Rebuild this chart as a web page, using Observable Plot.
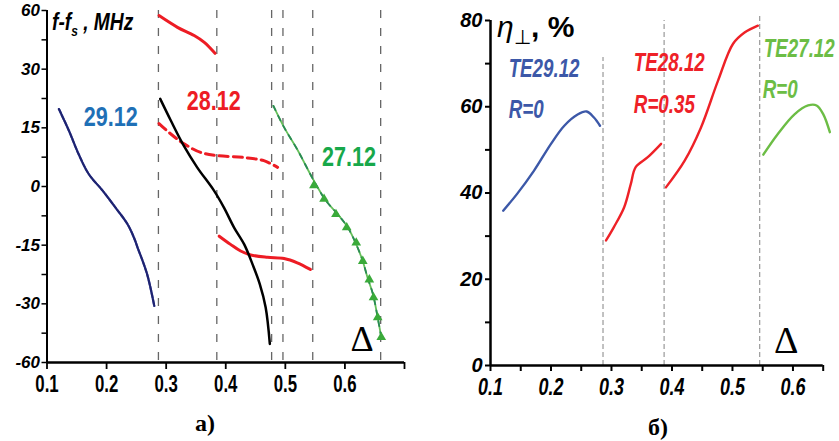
<!DOCTYPE html>
<html><head><meta charset="utf-8">
<script src="https://cdn.jsdelivr.net/npm/d3@7"></script>
<script src="https://cdn.jsdelivr.net/npm/@observablehq/plot@0.6"></script>
<style>
body{margin:0;background:#fff;}
#wrap{position:relative;width:839px;height:441px;overflow:hidden;background:#fff;}
#left,#right{position:absolute;top:0;}
#left{left:0px;}#right{left:420px;}
.ov{position:absolute;white-space:nowrap;line-height:1;}
.cap{font-family:"Liberation Serif","DejaVu Serif",serif;font-weight:bold;font-size:24px;}
</style></head>
<body>
<div id="wrap">
  <div id="left"></div>
  <div id="right"></div>
  <div class="ov" style="left:52px;top:10px;font-size:24px;font-weight:bold;font-style:italic;font-family:'Liberation Sans',sans-serif;transform:scaleX(0.8);transform-origin:left top;">f-f<sub style="font-size:15px;">s</sub> , MHz</div>
  <div class="ov" style="left:497px;top:12px;font-size:30px;font-family:'Liberation Sans','DejaVu Sans',sans-serif;"><span style="font-style:italic;">η</span><sub style="font-size:20px;">⊥</sub><b>, %</b></div>
  <div class="ov cap" style="left:195px;top:411px;">a)</div>
  <div class="ov cap" style="left:648px;top:415px;">б)</div>
</div>
<script>
// ---------- Panel a) data ----------
const xTicksA = [0.1, 0.2, 0.3, 0.4, 0.5, 0.6];
const xTickEndA = [0.7];
const yTicksA = [60, 30, 15, 0, -15, -30, -60];
const yMinorA = [45, 22.5, 7.5, -7.5, -22.5, -45];
const dividersA = [0.287, 0.385, 0.477, 0.496, 0.546, 0.660];

const d2912 = [0.120, 0.137, 0.153, 0.170, 0.193, 0.215, 0.235, 0.246, 0.252, 0.268, 0.280];
const f2912 = [19.8, 14.2, 8.3, 3.2, -1.0, -5.4, -9.6, -13.1, -15.6, -22.4, -31.0];

const d2812top = [0.288, 0.319, 0.347, 0.364, 0.382];
const f2812top = [57.4, 51.4, 47.2, 43.7, 38.1];

const d2812dash = [0.288, 0.308, 0.330, 0.358, 0.386, 0.431, 0.464, 0.487];
const f2812dash = [16.1, 13.4, 10.9, 8.7, 7.9, 7.4, 6.6, 4.9];

const d2812black = [0.290, 0.308, 0.330, 0.352, 0.380, 0.397, 0.414, 0.431, 0.445, 0.457, 0.467, 0.474];
const f2812black = [22.4, 16.8, 10.3, 4.9, -1.0, -5.4, -10.5, -14.8, -19.9, -24.9, -31.9, -50.5];

const d2812low = [0.389, 0.408, 0.425, 0.442, 0.470, 0.498, 0.520, 0.542];
const f2812low = [-12.7, -14.8, -16.5, -17.5, -18.1, -18.4, -19.5, -21.2];

const d2712 = [0.480, 0.498, 0.521, 0.546, 0.568, 0.588, 0.605, 0.619, 0.630, 0.638, 0.647, 0.655, 0.661];
const f2712 = [20.6, 15.1, 9.2, 2.0, -3.6, -7.1, -10.5, -14.8, -19.1, -23.3, -27.5, -37.0, -47.1];
const d2712mk = [0.548, 0.565, 0.585, 0.603, 0.619, 0.630, 0.641, 0.648, 0.655, 0.661];
const f2712mk = [0.3, -3.2, -7.1, -10.5, -14.4, -19.1, -23.8, -28.4, -37.0, -47.1];

const labelsA = ["29.12", "28.12", "27.12"];
const labelXA = [0.207, 0.380, 0.607];
const labelYA = [17.6, 21.7, 7.4];
const colorsA = ["#1f70b6", "#ed1c24", "#17a84a"];

// ---------- Panel б) data ----------
const xTicksB = [0.1, 0.2, 0.3, 0.4, 0.5, 0.6];
const xMinorB = [0.15, 0.25, 0.35, 0.45, 0.55, 0.65];
const yTicksB = [0, 20, 40, 60, 80];
const yMinorB = [10, 30, 50, 70];
const dividersB = [0.286, 0.387, 0.545];
const dividerTopsB = [71.4, 80, 81];

const d29 = [0.121, 0.144, 0.172, 0.200, 0.222, 0.244, 0.259, 0.271, 0.281];
const e29 = [35.9, 39.8, 45.2, 51.4, 55.6, 58.2, 58.9, 57.5, 55.6];
const d28a = [0.291, 0.304, 0.321, 0.332, 0.340, 0.360, 0.382];
const e28a = [29.0, 32.1, 36.7, 42.1, 46.0, 48.3, 51.4];
const d28b = [0.390, 0.421, 0.448, 0.476, 0.501, 0.520, 0.542];
const e28b = [41.3, 47.5, 55.2, 66.0, 74.6, 77.2, 78.8];
const d27 = [0.551, 0.575, 0.603, 0.625, 0.639, 0.650, 0.661];
const e27 = [48.9, 53.7, 58.3, 60.3, 60.3, 58.3, 54.1];

const labelsB = ["TE29.12", "R=0", "TE28.12", "R=0.35", "TE27.12", "R=0"];
const labelXB = [0.130, 0.130, 0.337, 0.337, 0.550, 0.550];
const labelYB = [68.8, 59.3, 70.2, 60.5, 73.5, 64.0];
const colorsB = ["#3c58a8", "#3c58a8", "#ee2127", "#ee2127", "#6cbd45", "#6cbd45"];

const pts = (xs, ys) => xs.map((x, i) => ({x, y: ys[i]}));
const SANS = '"Liberation Sans","DejaVu Sans",sans-serif';
const SERIF = '"Liberation Serif","DejaVu Serif",serif';

// piecewise (equal spacing) y axis of panel a)
const yPiece = d3.scaleLinear().domain([-60, -30, -15, 0, 15, 30, 60]).range([0, 1, 2, 3, 4, 5, 6]);

function condense(svg, fontSize, k) {
  svg.querySelectorAll(`g[font-size="${fontSize}"] text`).forEach(t => {
    const w = t.getComputedTextLength();
    if (w > 0) {
      t.setAttribute("textLength", (w * k).toFixed(2));
      t.setAttribute("lengthAdjust", "spacingAndGlyphs");
    }
  });
}

// ---------- Panel a) ----------
const lblA = labelsA.map((t, i) => ({t, x: labelXA[i], y: labelYA[i], c: colorsA[i]}));
const plotA = Plot.plot({
  width: 420, height: 441,
  marginLeft: 46.5, marginRight: 16, marginTop: 10, marginBottom: 79,
  x: {domain: [0.1, 0.7], axis: null},
  y: {transform: yPiece, domain: [0, 6], axis: null},
  marks: [
    Plot.ruleX(dividersA, {stroke: "#666", strokeWidth: 1.3, strokeDasharray: "8,10"}),
    Plot.line(pts(d2912, f2912), {x: "x", y: "y", stroke: "#6470c0", strokeWidth: 2.2, curve: "catmull-rom"}),
    Plot.line(pts(d2912, f2912), {x: "x", y: "y", stroke: "#1e2370", strokeWidth: 2.2, strokeDasharray: "5,1.5", curve: "catmull-rom"}),
    Plot.line(pts(d2812top, f2812top), {x: "x", y: "y", stroke: "#ed1c24", strokeWidth: 3, curve: "catmull-rom"}),
    Plot.line(pts(d2812dash, f2812dash), {x: "x", y: "y", stroke: "#ed1c24", strokeWidth: 3, strokeDasharray: "9,5", curve: "catmull-rom"}),
    Plot.line(pts(d2812low, f2812low), {x: "x", y: "y", stroke: "#ed1c24", strokeWidth: 3, curve: "catmull-rom"}),
    Plot.line(pts(d2812black, f2812black), {x: "x", y: "y", stroke: "#000", strokeWidth: 2.5, curve: "catmull-rom"}),
    Plot.line(pts(d2712, f2712), {x: "x", y: "y", stroke: "#66c05a", strokeWidth: 1.8, curve: "catmull-rom"}),
    Plot.line(pts(d2712, f2712), {x: "x", y: "y", stroke: "#2a8a55", strokeWidth: 1.8, strokeDasharray: "5,6", curve: "catmull-rom"}),
    Plot.dot(pts(d2712mk, f2712mk), {x: "x", y: "y", symbol: "triangle", r: 3.6, fill: "#3aaa3a", stroke: "none"}),
    Plot.text(lblA, {x: "x", y: "y", text: "t", fill: "c", fontSize: 27, fontWeight: "bold", fontFamily: SANS, textAnchor: "middle"}),
    Plot.text(["Δ"], {x: 0.629, y: -48.3, fontSize: 36, fontFamily: SERIF, textAnchor: "middle"}),
    Plot.ruleX([0.1], {stroke: "#000", strokeWidth: 2}),
    Plot.ruleY([-60], {stroke: "#000", strokeWidth: 2.5}),
    Plot.axisY(yTicksA, {anchor: "left", label: null, tickSize: 5, tickPadding: 2, strokeWidth: 1.5, fontSize: 17, fontWeight: "bold", fontStyle: "italic", fontFamily: SANS, tickFormat: d => String(d)}),
    Plot.axisY(yMinorA, {anchor: "left", label: null, tickSize: 5, strokeWidth: 1.5, tickFormat: () => ""}),
    Plot.axisX(xTicksA, {anchor: "bottom", label: null, tickSize: 7, tickPadding: 5, strokeWidth: 1.8, fontSize: 24, fontWeight: "bold", fontFamily: SANS, tickFormat: d => d.toFixed(1)}),
    Plot.axisX(xTickEndA, {anchor: "bottom", label: null, tickSize: 7, strokeWidth: 1.8, tickFormat: () => ""})
  ]
});
document.getElementById("left").appendChild(plotA);
condense(plotA, 27, 0.8);
condense(plotA, 24, 0.7);

// ---------- Panel б) ----------
const lblB = labelsB.map((t, i) => ({t, x: labelXB[i], y: labelYB[i], c: colorsB[i]}));
const lblBWide = lblB.filter(d => d.t === "TE27.12");   // sits at the right edge: anchored at its end
const lblBRest = lblB.filter(d => d.t !== "TE27.12");
const divB = dividersB.map((x, i) => ({x, top: dividerTopsB[i]}));
const plotB = Plot.plot({
  width: 419, height: 441,
  marginLeft: 70, marginRight: 16.3, marginTop: 20, marginBottom: 76,
  x: {domain: [0.1, 0.65], axis: null},
  y: {domain: [0, 80], axis: null},
  marks: [
    Plot.ruleX(divB, {x: "x", y1: 0, y2: "top", stroke: "#999", strokeWidth: 1.2, strokeDasharray: "5,3"}),
    Plot.line(pts(d29, e29), {x: "x", y: "y", stroke: "#3c58a8", strokeWidth: 2.4, curve: "catmull-rom"}),
    Plot.line(pts(d28a, e28a), {x: "x", y: "y", stroke: "#ee2127", strokeWidth: 2.4, curve: "catmull-rom"}),
    Plot.line(pts(d28b, e28b), {x: "x", y: "y", stroke: "#ee2127", strokeWidth: 2.4, curve: "catmull-rom"}),
    Plot.line(pts(d27, e27), {x: "x", y: "y", stroke: "#6cbd45", strokeWidth: 2.4, curve: "catmull-rom"}),
    Plot.text(lblBRest, {x: "x", y: "y", text: "t", fill: "c", fontSize: 25, fontWeight: "bold", fontStyle: "italic", fontFamily: SANS, textAnchor: "start"}),
    Plot.text(lblBWide, {x: "x", y: "y", text: "t", fill: "c", fontSize: 25, fontWeight: "bold", fontStyle: "italic", fontFamily: SANS, textAnchor: "end", dx: 72}),
    Plot.text(["Δ"], {x: 0.589, y: 5.8, fontSize: 38, fontFamily: SERIF, textAnchor: "middle"}),
    Plot.ruleX([0.1], {stroke: "#000", strokeWidth: 2.5}),
    Plot.ruleY([0], {stroke: "#000", strokeWidth: 2.5}),
    Plot.axisY(yTicksB, {anchor: "left", label: null, tickSize: 5, tickPadding: 3, strokeWidth: 2, fontSize: 20, fontWeight: "bold", fontStyle: "italic", fontFamily: SANS, tickFormat: d => String(d)}),
    Plot.axisY(yMinorB, {anchor: "left", label: null, tickSize: 5, strokeWidth: 2, tickFormat: () => ""}),
    Plot.axisX(xTicksB, {anchor: "bottom", label: null, tickSize: 6, tickPadding: 7, strokeWidth: 2, fontSize: 23, fontWeight: "bold", fontStyle: "italic", fontFamily: SANS, tickFormat: d => d.toFixed(1)}),
    Plot.axisX(xMinorB, {anchor: "bottom", label: null, tickSize: 6, strokeWidth: 2, tickFormat: () => ""})
  ]
});
document.getElementById("right").appendChild(plotB);
condense(plotB, 25, 0.75);
condense(plotB, 23, 0.78);
</script>
</body></html>
